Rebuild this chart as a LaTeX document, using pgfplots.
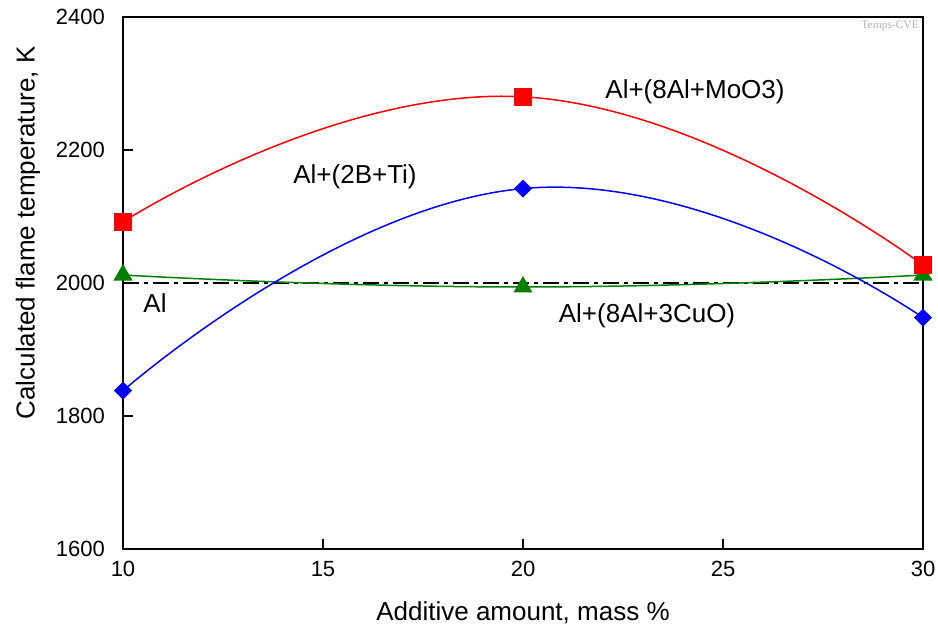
\documentclass[border=0pt]{standalone}
\usepackage{fontspec}
\setmainfont{Liberation Sans}
\newfontfamily\markfont{Liberation Serif}
\usepackage{pgfplots}
\pgfplotsset{compat=1.18}

\definecolor{mored}{RGB}{255,0,0}
\definecolor{tiblue}{RGB}{0,0,255}
\definecolor{cugreen}{RGB}{0,128,0}

\begin{document}
\begin{tikzpicture}
\begin{axis}[
  name=ax,
  scale only axis,
  width=800bp, height=532bp,
  xmin=10, xmax=30, ymin=1600, ymax=2400,
  xtick={10,15,20,25,30},
  ytick={1600,1800,2000,2200,2400},
  tick align=inside,
  tick pos=left,
  major tick length=10bp,
  axis line style={line width=1.4bp},
  every tick/.style={black, line width=1.1bp},
  /pgf/number format/assume math mode=true,
  /pgf/number format/1000 sep={},
  ticklabel style={font=\fontsize{22bp}{22bp}\selectfont},
  xticklabel style={anchor=north, inner sep=0pt, yshift=-12bp},
  yticklabel style={anchor=east, inner sep=0pt, xshift=-18bp},
  clip=false,
]
% reference level of pure Al
\addplot[black, line width=2bp, dash pattern=on 16bp off 5bp on 4bp off 5bp]
  coordinates {(10,2000) (30,2000)};

% Al + (8Al+3CuO)
\addplot[cugreen, line width=1.5bp, smooth, tension=0.85,
  mark=triangle*, mark size=9.5bp, mark options={solid, fill=cugreen}]
  coordinates {(10,2012) (20,1994) (30,2012)};

% Al + (2B+Ti)
\addplot[tiblue, line width=1.5bp, smooth, tension=0.85,
  mark=square*, mark size=5.6bp, mark options={solid, fill=tiblue, rotate=45}]
  coordinates {(10,1838) (20,2142) (30,1948)};

% Al + (8Al+MoO3)
\addplot[mored, line width=1.5bp, smooth, tension=0.85,
  mark=square*, mark size=8bp, mark options={solid, fill=mored}]
  coordinates {(10,2092) (20,2280) (30,2027)};

\begin{scope}[every node/.style={inner sep=0pt, font=\fontsize{26bp}{26bp}\selectfont}]
\node[anchor=base] at (axis cs:24.3,2278) {Al+(8Al+MoO3)};
\node[anchor=base] at (axis cs:15.8,2150) {Al+(2B+Ti)};
\node[anchor=base] at (axis cs:10.8,1956) {Al};
\node[anchor=base] at (axis cs:23.1,1940) {Al+(8Al+3CuO)};
\end{scope}

\node[anchor=base east, inner sep=0pt, text=black!30,
  font=\markfont\fontsize{11.5bp}{11.5bp}\selectfont]
  at (axis cs:29.9,2383) {Temps-CVE};
\end{axis}

\node[rotate=90, inner sep=0pt, font=\fontsize{26bp}{26bp}\selectfont]
  at ([shift={(-95bp,50bp)}]ax.west) {Calculated flame temperature, K};
\node[anchor=base, inner sep=0pt, font=\fontsize{26bp}{26bp}\selectfont]
  at ([yshift=-72bp]ax.south) {Additive amount, mass \%};

\pgfresetboundingbox
\useasboundingbox ([shift={(-123bp,-76bp)}]ax.south west)
  rectangle ([shift={(15bp,17bp)}]ax.north east);
\end{tikzpicture}
\end{document}
